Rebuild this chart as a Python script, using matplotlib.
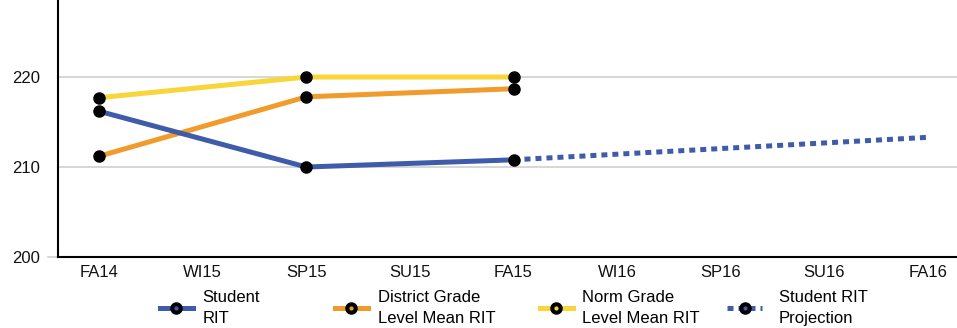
import matplotlib.pyplot as plt
import numpy as np
from matplotlib.lines import Line2D
from matplotlib.legend_handler import HandlerTuple

plt.rcParams['font.family'] = ['Liberation Sans', 'DejaVu Sans']

# Data
terms = ["FA14", "WI15", "SP15", "SU15", "FA15", "WI16", "SP16", "SU16", "FA16"]
student_rit = [216.2, np.nan, 210.0, np.nan, 210.8, np.nan, np.nan, np.nan, np.nan]
district_rit = [211.2, np.nan, 217.8, np.nan, 218.7, np.nan, np.nan, np.nan, np.nan]
norm_rit = [217.7, np.nan, 220.0, np.nan, 220.0, np.nan, np.nan, np.nan, np.nan]
projection = [np.nan, np.nan, np.nan, np.nan, 210.8, np.nan, np.nan, np.nan, 213.3]

blue = "#3F5CAB"
orange = "#F19B2C"
yellow = "#F8D538"

x = np.arange(len(terms))

def connect(vals):
    v = np.array(vals, dtype=float)
    m = ~np.isnan(v)
    return x[m], v[m]

fig = plt.figure(figsize=(9.57, 3.28), dpi=100)
ax = fig.add_axes([58 / 957, 71 / 328, 1 - 58 / 957, 1 - 71 / 328])

lw = 3.6
ms = 8
dotted = (0, (1.2, 1.0))
px, py = connect(projection)
ax.plot(px, py, color=blue, lw=lw, linestyle=dotted, dash_capstyle='butt', zorder=2)
for vals, c in [(norm_rit, yellow), (district_rit, orange), (student_rit, blue)]:
    sx, sy = connect(vals)
    ax.plot(sx, sy, color=c, lw=lw, solid_capstyle='butt', zorder=3)
    ax.plot(sx, sy, 'o', color='black', ms=ms, zorder=4)

ax.set_xlim(-0.396, 8.28)
ax.set_ylim(200, 228.56)
ax.set_xticks(x)
ax.set_xticklabels(terms)
ax.set_yticks([200, 210, 220])
ax.tick_params(axis='both', length=0, labelsize=12, colors='#111111')
ax.tick_params(axis='x', pad=6)
ax.tick_params(axis='y', pad=13)
for yv in [210, 220]:
    ax.axhline(yv, color='#d0d0d0', lw=1.2, zorder=1)
ax.add_line(Line2D([-0.011, 0], [0, 0], transform=ax.transAxes, color='#d0d0d0', lw=1.2, clip_on=False))

for s in ['top', 'right']:
    ax.spines[s].set_visible(False)
for s in ['left', 'bottom']:
    ax.spines[s].set_linewidth(1.5)
    ax.spines[s].set_color('black')

def handle(c, ls='-'):
    base = Line2D([], [], color=c, lw=lw, linestyle=ls, dash_capstyle='butt')
    dot = Line2D([], [], marker='o', color='black', ms=ms, linestyle='none')
    inner = Line2D([], [], marker='o', color=c, ms=2, linestyle='none')
    return (base, dot, inner)

handles = [handle(blue), handle(orange), handle(yellow), handle(blue, dotted)]
labels = ["Student\nRIT", "District Grade\nLevel Mean RIT", "Norm Grade\nLevel Mean RIT", "Student RIT\nProjection"]
starts = [160, 335, 540, 727]
hlens = [1.95, 1.95, 1.95, 2.1]
pads = [0.6, 0.6, 0.6, 1.0]
for h, lab, xs, hl, hp in zip(handles, labels, starts, hlens, pads):
    leg = fig.legend([h], [lab], handler_map={tuple: HandlerTuple(ndivide=1, pad=0)},
                     loc='center left', bbox_to_anchor=(xs / 957, 1 - 308 / 328),
                     frameon=False, fontsize=12, handlelength=hl, handletextpad=hp,
                     borderpad=0, borderaxespad=0)
    for t in leg.get_texts():
        t.set_linespacing(1.55)

fig.savefig("out.png", dpi=100)
